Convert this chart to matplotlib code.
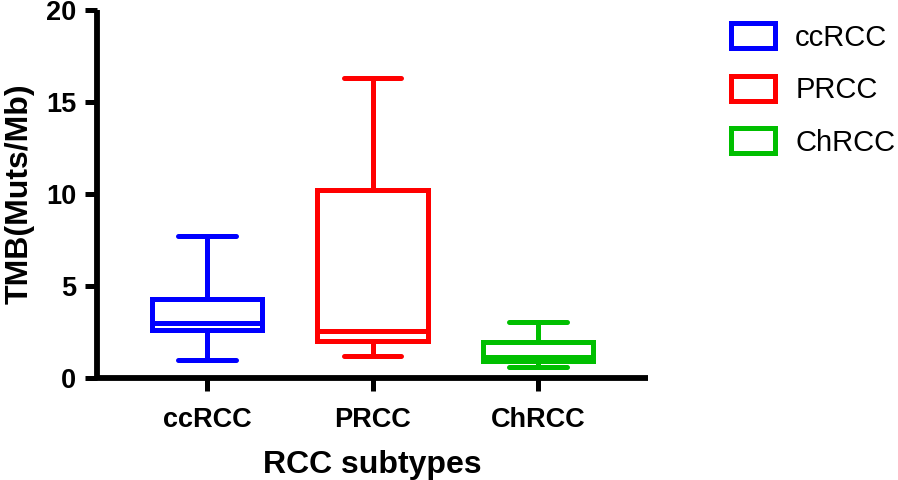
import matplotlib
matplotlib.use("Agg")
import matplotlib.pyplot as plt
from matplotlib.patches import Patch

plt.rcParams['font.family'] = ['Liberation Sans', 'DejaVu Sans']

# Box plot summary values (Muts/Mb)
groups = ['ccRCC', 'PRCC', 'ChRCC']
colors = ['#0000FF', '#FF0000', '#00BF00']
whislo = [0.98, 1.2, 0.6]
q1 = [2.6, 2.0, 0.9]
med = [3.0, 2.55, 1.15]
q3 = [4.3, 10.2, 1.96]
whishi = [7.7, 16.3, 3.05]

fig = plt.figure(figsize=(8.98, 4.8), dpi=100)
ax = fig.add_axes([97 / 898, 1 - 378 / 480, 551 / 898, 368 / 480])

lw = 3.6
for i, name in enumerate(groups):
    stats = [{'label': name, 'whislo': whislo[i], 'q1': q1[i], 'med': med[i],
              'q3': q3[i], 'whishi': whishi[i], 'fliers': []}]
    c = colors[i]
    ax.bxp(stats, positions=[i + 1], widths=0.665, capwidths=0.345,
           showfliers=False,
           boxprops=dict(color=c, linewidth=lw, solid_joinstyle='miter'),
           medianprops=dict(color=c, linewidth=lw, solid_capstyle='butt'),
           whiskerprops=dict(color=c, linewidth=lw, solid_capstyle='butt'),
           capprops=dict(color=c, linewidth=lw, solid_capstyle='round'))

ax.set_xlim(0.335, 3.665)
ax.set_ylim(0, 20)
ax.set_yticks([0, 5, 10, 15, 20])
ax.set_xticks([1, 2, 3])
ax.set_xticklabels(groups)

for s in ['top', 'right']:
    ax.spines[s].set_visible(False)
for s in ['left', 'bottom']:
    ax.spines[s].set_linewidth(4.2)
    ax.spines[s].set_capstyle('butt')

ax.tick_params(axis='both', width=3.6, length=9, labelsize=19.5)
ax.tick_params(axis='y', pad=6)
ax.tick_params(axis='x', pad=12)
for lab in ax.get_xticklabels() + ax.get_yticklabels():
    lab.set_fontweight('bold')

ax.set_ylabel('TMB(Muts/Mb)', fontsize=23, fontweight='bold', labelpad=8)
ax.set_xlabel('RCC subtypes', fontsize=23, fontweight='bold', labelpad=12)

handles = [Patch(facecolor='white', edgecolor=c, linewidth=lw) for c in colors]
fig.legend(handles, groups, loc='upper left', bbox_to_anchor=(731 / 898, 1 - 23 / 480),
           frameon=False, fontsize=21, handlelength=1.5, handleheight=0.95,
           handletextpad=0.7, labelspacing=0.82, borderpad=0, borderaxespad=0)

fig.savefig('out.png', dpi=100)
